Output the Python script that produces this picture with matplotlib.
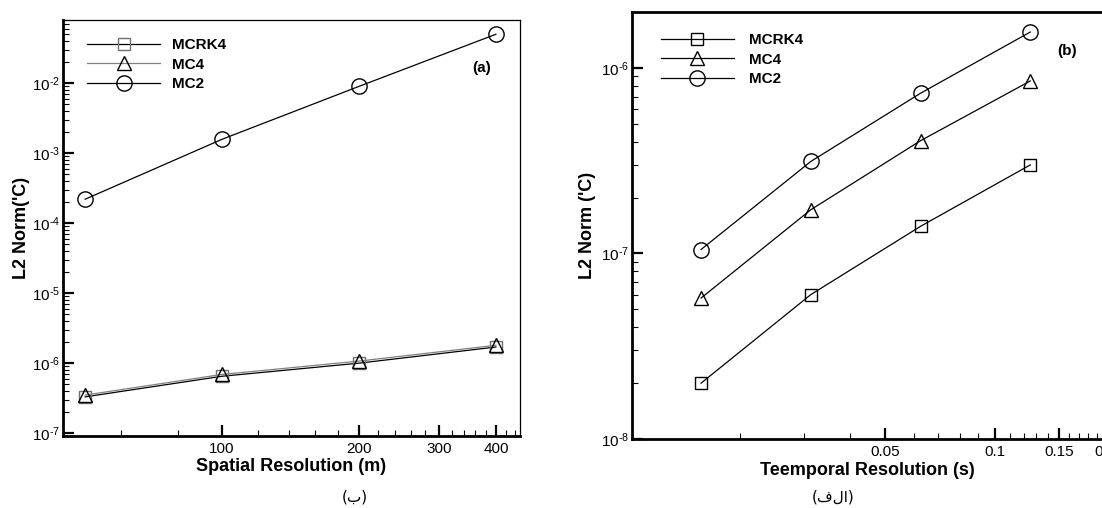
import numpy as np
import matplotlib
matplotlib.use("Agg")
import matplotlib.pyplot as plt
import matplotlib.ticker as ticker

plt.rcParams['font.family'] = ['Liberation Sans', 'DejaVu Sans']
plt.rcParams['mathtext.fontset'] = 'custom'
plt.rcParams['mathtext.rm'] = 'Liberation Sans'
plt.rcParams['mathtext.default'] = 'regular'

# (a) spatial convergence
space_res = [50, 100, 200, 400]
space_mcrk4 = [3.3e-7, 6.5e-7, 1.0e-6, 1.7e-6]
space_mc4 = [3.5e-7, 6.9e-7, 1.07e-6, 1.8e-6]
space_mc2 = [2.2e-4, 1.58e-3, 9.0e-3, 5.0e-2]

# (b) temporal convergence
time_res = [0.015625, 0.03125, 0.0625, 0.125]
time_mcrk4 = [2.0e-8, 6.0e-8, 1.4e-7, 3.0e-7]
time_mc4 = [5.75e-8, 1.72e-7, 4.05e-7, 8.5e-7]
time_mc2 = [1.05e-7, 3.13e-7, 7.3e-7, 1.56e-6]

space_xticks = [100, 200, 300, 400]
space_xminor = [60, 80, 120, 140, 160, 180, 220, 240, 260, 280, 320, 340, 360, 380, 420, 440]
time_xticks = [0.05, 0.1, 0.15, 0.2]
time_xminor = [0.02, 0.03, 0.04, 0.06, 0.07, 0.08, 0.09, 0.11, 0.12, 0.13, 0.14,
               0.16, 0.17, 0.18, 0.19, 0.21, 0.22, 0.23, 0.24]

caption_a = "ب"
caption_b = "الف"


def sci_label(v, pos):
    # tecplot-like 10^-n: small superscript with a plain hyphen
    e = int(round(np.log10(v)))
    sign = '\u2010' if e < 0 else ''
    return '10$^{%s%d}$' % (sign, abs(e))


def style_axes(ax, thick_top):
    for side in ['left', 'bottom']:
        ax.spines[side].set_linewidth(2.0)
    ax.spines['top'].set_linewidth(2.0 if thick_top else 0.9)
    ax.spines['right'].set_linewidth(0.9)
    ax.tick_params(which='both', direction='in', top=False, right=False, labelsize=11)
    ax.tick_params(which='major', length=8, width=1.6)
    ax.tick_params(which='minor', length=4, width=0.8)
    ax.tick_params(axis='y', which='both', pad=2)
    ax.tick_params(axis='x', which='both', pad=4)
    ax.yaxis.set_major_locator(ticker.LogLocator(base=10, numticks=12))
    ax.yaxis.set_major_formatter(ticker.FuncFormatter(sci_label))
    ax.yaxis.set_minor_locator(ticker.LogLocator(base=10, subs=np.arange(2, 10)))
    ax.yaxis.set_minor_formatter(ticker.NullFormatter())


fig = plt.figure(figsize=(11.02, 5.08), dpi=100)

# ---- left panel
a1 = fig.add_axes([0.0572, 0.1417, 0.4147, 0.819])
a1.plot(space_res, space_mc4, color='#808080', lw=0.9, marker='^', ms=10,
        mfc='none', mec='black', label='MC4', zorder=3)
a1.plot(space_res, space_mcrk4, color='black', lw=0.9, marker='s', ms=8,
        mfc='none', mec='#707070', label='MCRK4', zorder=2)
a1.plot(space_res, space_mc2, color='black', lw=0.9, marker='o', ms=11,
        mfc='none', mec='black', label='MC2')
a1.set_xscale('log')
a1.set_yscale('log')
a1.set_xlim(44.7, 452)
a1.set_ylim(9.1e-8, 0.08)
a1.xaxis.set_major_locator(ticker.FixedLocator(space_xticks))
a1.xaxis.set_major_formatter(ticker.FixedFormatter([str(v) for v in space_xticks]))
a1.xaxis.set_minor_locator(ticker.FixedLocator(space_xminor))
a1.xaxis.set_minor_formatter(ticker.NullFormatter())
style_axes(a1, thick_top=False)
h, l = a1.get_legend_handles_labels()
order = [1, 0, 2]
a1.legend([h[i] for i in order], [l[i] for i in order], loc='upper left',
          bbox_to_anchor=(0.022, 0.989), frameon=False, handlelength=4.8,
          handletextpad=0.8, labelspacing=0.35, prop={'weight': 'bold', 'size': 11})
a1.text(0.917, 0.885, '(a)', transform=a1.transAxes, fontsize=11, fontweight='bold',
        ha='center', va='center')
a1.set_xlabel('Spatial Resolution (m)', fontsize=13, fontweight='bold')
a1.set_ylabel("L2 Norm('C)", fontsize=13, fontweight='bold')
a1.xaxis.set_label_coords(0.5, -0.052)
a1.yaxis.set_label_coords(-0.072, 0.5)

# ---- right panel
a2 = fig.add_axes([0.5735, 0.1358, 0.461, 0.8406])
a2.plot(time_res, time_mcrk4, color='black', lw=0.9, marker='s', ms=8,
        mfc='none', mec='black', label='MCRK4')
a2.plot(time_res, time_mc4, color='black', lw=0.9, marker='^', ms=10,
        mfc='none', mec='black', label='MC4')
a2.plot(time_res, time_mc2, color='black', lw=0.9, marker='o', ms=11,
        mfc='none', mec='black', label='MC2')
a2.set_xscale('log')
a2.set_yscale('log')
a2.set_xlim(0.0101, 0.25)
a2.set_ylim(1e-8, 2e-6)
a2.xaxis.set_major_locator(ticker.FixedLocator(time_xticks))
a2.xaxis.set_major_formatter(ticker.FixedFormatter([str(v) for v in time_xticks]))
a2.xaxis.set_minor_locator(ticker.FixedLocator(time_xminor))
a2.xaxis.set_minor_formatter(ticker.NullFormatter())
style_axes(a2, thick_top=True)
a2.legend(loc='upper left', bbox_to_anchor=(0.0295, 0.982), frameon=False,
          handlelength=4.8, handletextpad=0.95, labelspacing=0.35,
          prop={'weight': 'bold', 'size': 11})
a2.text(0.856, 0.909, '(b)', transform=a2.transAxes, fontsize=11, fontweight='bold',
        ha='center', va='center')
a2.set_xlabel('Teemporal Resolution (s)', fontsize=13, fontweight='bold')
a2.set_ylabel("L2 Norm ('C)", fontsize=13, fontweight='bold')
a2.xaxis.set_label_coords(0.464, -0.054)
a2.yaxis.set_label_coords(-0.071, 0.5)

# captions (Arabic script, reversed for left-to-right drawing)
fig.text(355 / 1102, 1 - 497 / 508, '(' + caption_a[::-1] + ')', fontsize=11,
         ha='center', va='center', family=['DejaVu Sans'])
fig.text(833 / 1102, 1 - 497 / 508, '(' + caption_b[::-1] + ')', fontsize=11,
         ha='center', va='center', family=['DejaVu Sans'])

fig.savefig('out.png', dpi=100)
